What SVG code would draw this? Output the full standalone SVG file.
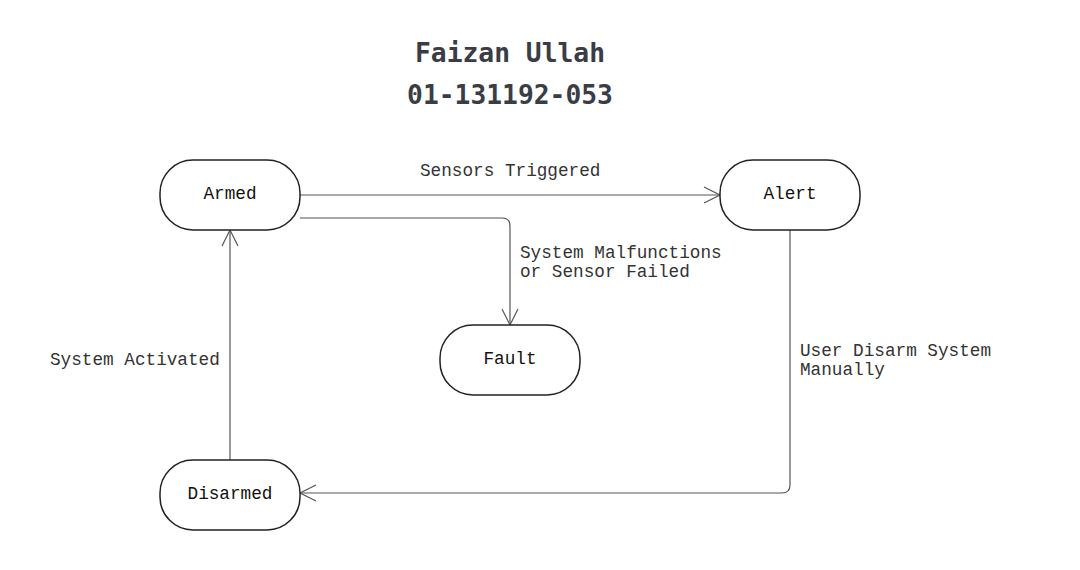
<svg xmlns="http://www.w3.org/2000/svg" width="1080" height="570" viewBox="0 0 1080 570">
<defs>
<style>
.node rect{fill:#fff;stroke:#222;stroke-width:1.5}
.node text{font-family:"Liberation Mono",monospace;font-size:17.7px;fill:#111;text-anchor:middle}
.lbl{font-family:"Liberation Mono",monospace;font-size:17.7px;fill:#333}
.title{font-family:"DejaVu Sans Mono","Liberation Mono",monospace;font-weight:bold;font-size:26.3px;fill:#3a3d45;text-anchor:middle}
.edge{fill:none;stroke:#555;stroke-width:1.2}
</style>
<marker id="arr" viewBox="0 0 20 20" refX="18" refY="10" markerWidth="20" markerHeight="20" markerUnits="userSpaceOnUse" orient="auto">
<path d="M2,2 L18,10 L2,18" fill="none" stroke="#555" stroke-width="1.2"/>
</marker>
</defs>
<rect width="1080" height="570" fill="#fff"/>
<text class="title" x="510" y="62">Faizan Ullah</text>
<text class="title" x="510" y="104">01-131192-053</text>
<g id="connectors">
<path class="edge" d="M300,195 H720" marker-end="url(#arr)"/>
<path class="edge" d="M300,218 H502 Q510,218 510,226 V325" marker-end="url(#arr)"/>
<path class="edge" d="M790,230 V485 Q790,493 782,493 H300" marker-end="url(#arr)"/>
<path class="edge" d="M230,460 V230" marker-end="url(#arr)"/>
<text class="lbl" x="420" y="176">Sensors Triggered</text>
<text class="lbl" x="520" y="258">System Malfunctions</text>
<text class="lbl" x="520" y="277">or Sensor Failed</text>
<text class="lbl" x="50" y="365">System Activated</text>
<text class="lbl" x="800" y="356">User Disarm System</text>
<text class="lbl" x="800" y="375">Manually</text>
</g>
<g id="armed" class="node"><rect x="160" y="160" width="140" height="70" rx="33"/><text x="230" y="199">Armed</text></g>
<g id="alert" class="node"><rect x="720" y="160" width="140" height="70" rx="33"/><text x="790" y="199">Alert</text></g>
<g id="fault" class="node"><rect x="440" y="325" width="140" height="70" rx="33"/><text x="510" y="364">Fault</text></g>
<g id="disarmed" class="node"><rect x="160" y="460" width="140" height="70" rx="33"/><text x="230" y="499">Disarmed</text></g>
</svg>
